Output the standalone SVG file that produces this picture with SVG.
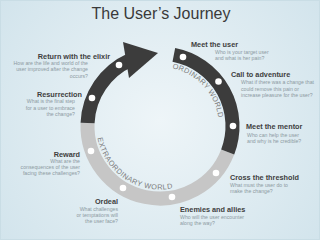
<svg xmlns="http://www.w3.org/2000/svg" width="320" height="240" viewBox="0 0 320 240">
<defs>
<radialGradient id="bg" cx="160" cy="120" r="200" gradientUnits="userSpaceOnUse">
<stop offset="0" stop-color="#eef5f8"/>
<stop offset="1" stop-color="#d2e4ec"/>
</radialGradient>
<path id="ordPath" d="M172.27,68.29 A59,59 0 0 1 218.56,118.81"/>
<path id="extPath" d="M97.67,138.12 A63.5,63.5 0 0 0 175.36,187.61"/>
</defs>
<style>
.t{font-family:"Liberation Sans",Arial,sans-serif;font-weight:bold;font-size:7.3px;fill:#3e3e3e}
.s{font-family:"Liberation Sans",Arial,sans-serif;font-size:5.2px;fill:#8d9aa2}
.e{text-anchor:end}
.ring{fill:none;stroke-width:14}
.dark{stroke:#3c3c3c}
.grey{stroke:#c6c6c6}
.dot{fill:#ffffff}
.arc{font-family:"Liberation Sans",Arial,sans-serif;font-size:7.3px;fill:#7b7b7b}
</style>
<rect x="0" y="0" width="320" height="240" fill="url(#bg)"/>
<rect x="0.5" y="0.5" width="319" height="239" fill="none" stroke="#c9dde5" stroke-width="1"/>
<text x="161" y="19" text-anchor="middle" font-family="Liberation Sans, Arial, sans-serif" font-size="16" fill="#3a3a3a">The User’s Journey</text>
<g id="connectors">
<path class="ring grey" d="M227.69,151.98 A72.5,72.5 0 0 1 87.56,122.96"/>
<path class="ring dark" d="M87.56,122.96 A72.5,72.5 0 0 1 130.51,59.77"/>
<polygon fill="#3c3c3c" points="123,42 158,53 129,78"/>
<path class="ring dark" d="M173.83,54.83 A72.5,72.5 0 0 1 227.69,151.98"/>
<text class="arc"><textPath href="#ordPath" textLength="72" lengthAdjust="spacing">ORDINARY WORLD</textPath></text>
<text class="arc"><textPath href="#extPath" textLength="100" lengthAdjust="spacing">EXTRAORDINARY WORLD</textPath></text>
</g>
<g id="meet-user">
<circle class="dot" cx="183" cy="57" r="3.3"/>
<text class="t" x="191" y="47">Meet the user</text>
<text class="s" x="215" y="54">Who is your target user</text>
<text class="s" x="215" y="60">and what is her pain?</text>
</g>
<g id="call-to-adventure">
<circle class="dot" cx="218.5" cy="81.5" r="3.3"/>
<text class="t" x="231" y="77">Call to adventure</text>
<text class="s" x="241" y="84">What if there was a change that</text>
<text class="s" x="241" y="90.5">could remove this pain or</text>
<text class="s" x="241" y="97">increase pleasure for the user?</text>
</g>
<g id="meet-mentor">
<circle class="dot" cx="233" cy="126" r="3.3"/>
<text class="t" x="246" y="129">Meet the mentor</text>
<text class="s" x="247" y="137">Who can help the user</text>
<text class="s" x="247" y="143">and why is he credible?</text>
</g>
<g id="cross-threshold">
<circle class="dot" cx="216" cy="173" r="3.3"/>
<text class="t" x="230" y="180">Cross the threshold</text>
<text class="s" x="230" y="187">What must the user do to</text>
<text class="s" x="230" y="193">make the change?</text>
</g>
<g id="enemies-allies">
<circle class="dot" cx="172" cy="197" r="3.3"/>
<text class="t" x="180" y="212">Enemies and allies</text>
<text class="s" x="180" y="219">Who will the user encounter</text>
<text class="s" x="180" y="225">along the way?</text>
</g>
<g id="ordeal">
<circle class="dot" cx="123" cy="188" r="3.3"/>
<text class="t e" x="118" y="204">Ordeal</text>
<text class="s e" x="118" y="211">What challenges</text>
<text class="s e" x="118" y="217">or temptations will</text>
<text class="s e" x="118" y="223">the user face?</text>
</g>
<g id="reward">
<circle class="dot" cx="91" cy="151" r="3.3"/>
<text class="t e" x="80" y="157">Reward</text>
<text class="s e" x="80" y="163">What are the</text>
<text class="s e" x="80" y="169">consequences of the user</text>
<text class="s e" x="80" y="175">facing these challenges?</text>
</g>
<g id="resurrection">
<circle class="dot" cx="92" cy="98" r="3.3"/>
<text class="t e" x="82" y="96.5">Resurrection</text>
<text class="s e" x="75" y="103">What is the final step</text>
<text class="s e" x="75" y="109.5">for a user to embrace</text>
<text class="s e" x="75" y="116">the change?</text>
</g>
<g id="return-elixir">
<circle class="dot" cx="119" cy="65" r="3.3"/>
<text class="t e" x="110" y="59">Return with the elixir</text>
<text class="s e" x="88" y="65">How are the life and world of the</text>
<text class="s e" x="88" y="71">user improved after the change</text>
<text class="s e" x="88" y="77.5">occurs?</text>
</g>
</svg>
